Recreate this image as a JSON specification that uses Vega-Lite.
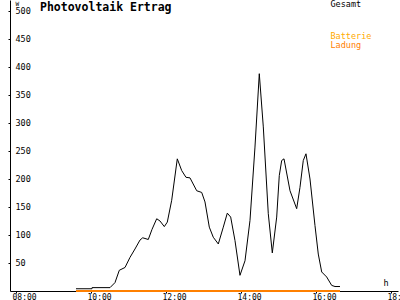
{
  "$schema": "https://vega.github.io/schema/vega-lite/v6.json",
  "width": 388,
  "height": 291,
  "autosize": {"type": "none"},
  "padding": {"left": 10, "top": 0, "right": 2, "bottom": 9},
  "background": "white",
  "config": {
    "view": {"stroke": null},
    "font": "DejaVu Sans Mono",
    "title": {"offset": -13}
  },
  "title": {
    "text": "Photovoltaik Ertrag",
    "anchor": "start",
    "frame": "group",
    "orient": "top",
    "offset": -13,
    "dx": 30,
    "baseline": "top",
    "font": "DejaVu Sans Mono",
    "fontWeight": "bold",
    "fontSize": 11.5,
    "color": "black"
  },
  "data": {
    "values": [
      {"h": 9.6, "w": 4, "series": "Gesamt"},
      {"h": 10.027, "w": 4, "series": "Gesamt"},
      {"h": 10.028, "w": 6, "series": "Gesamt"},
      {"h": 10.507, "w": 6, "series": "Gesamt"},
      {"h": 10.64, "w": 15, "series": "Gesamt"},
      {"h": 10.755, "w": 37, "series": "Gesamt"},
      {"h": 10.907, "w": 42, "series": "Gesamt"},
      {"h": 11.04, "w": 60, "series": "Gesamt"},
      {"h": 11.173, "w": 75, "series": "Gesamt"},
      {"h": 11.307, "w": 91, "series": "Gesamt"},
      {"h": 11.379, "w": 95, "series": "Gesamt"},
      {"h": 11.528, "w": 92, "series": "Gesamt"},
      {"h": 11.627, "w": 110, "series": "Gesamt"},
      {"h": 11.752, "w": 129, "series": "Gesamt"},
      {"h": 11.84, "w": 125, "series": "Gesamt"},
      {"h": 11.955, "w": 115, "series": "Gesamt"},
      {"h": 12.035, "w": 123, "series": "Gesamt"},
      {"h": 12.152, "w": 162, "series": "Gesamt"},
      {"h": 12.301, "w": 236, "series": "Gesamt"},
      {"h": 12.419, "w": 215, "series": "Gesamt"},
      {"h": 12.533, "w": 203, "series": "Gesamt"},
      {"h": 12.64, "w": 202, "series": "Gesamt"},
      {"h": 12.819, "w": 179, "series": "Gesamt"},
      {"h": 12.952, "w": 176, "series": "Gesamt"},
      {"h": 13.04, "w": 159, "series": "Gesamt"},
      {"h": 13.155, "w": 114, "series": "Gesamt"},
      {"h": 13.261, "w": 96, "series": "Gesamt"},
      {"h": 13.395, "w": 84, "series": "Gesamt"},
      {"h": 13.528, "w": 114, "series": "Gesamt"},
      {"h": 13.635, "w": 139, "series": "Gesamt"},
      {"h": 13.725, "w": 132, "series": "Gesamt"},
      {"h": 13.84, "w": 90, "series": "Gesamt"},
      {"h": 13.973, "w": 28, "series": "Gesamt"},
      {"h": 14.107, "w": 54, "series": "Gesamt"},
      {"h": 14.24, "w": 126, "series": "Gesamt"},
      {"h": 14.373, "w": 257, "series": "Gesamt"},
      {"h": 14.488, "w": 388, "series": "Gesamt"},
      {"h": 14.595, "w": 293, "series": "Gesamt"},
      {"h": 14.728, "w": 138, "series": "Gesamt"},
      {"h": 14.835, "w": 68, "series": "Gesamt"},
      {"h": 14.952, "w": 132, "series": "Gesamt"},
      {"h": 15.021, "w": 206, "series": "Gesamt"},
      {"h": 15.085, "w": 233, "series": "Gesamt"},
      {"h": 15.147, "w": 236, "series": "Gesamt"},
      {"h": 15.307, "w": 179, "series": "Gesamt"},
      {"h": 15.485, "w": 147, "series": "Gesamt"},
      {"h": 15.573, "w": 185, "series": "Gesamt"},
      {"h": 15.661, "w": 233, "series": "Gesamt"},
      {"h": 15.733, "w": 245, "series": "Gesamt"},
      {"h": 15.84, "w": 200, "series": "Gesamt"},
      {"h": 15.973, "w": 117, "series": "Gesamt"},
      {"h": 16.061, "w": 66, "series": "Gesamt"},
      {"h": 16.152, "w": 34, "series": "Gesamt"},
      {"h": 16.285, "w": 25, "series": "Gesamt"},
      {"h": 16.419, "w": 10, "series": "Gesamt"},
      {"h": 16.507, "w": 8, "series": "Gesamt"},
      {"h": 16.64, "w": 8, "series": "Gesamt"},
      {"h": 9.6, "w": 0, "series": "Ladung"},
      {"h": 16.64, "w": 0, "series": "Ladung"}
    ]
  },
  "encoding": {
    "x": {
      "field": "h",
      "type": "quantitative",
      "scale": {"domain": [7.84, 18.187], "nice": false, "zero": false},
      "axis": {
        "values": [8, 10, 12, 14, 16, 18],
        "labelExpr": "(datum.value < 10 ? '0' : '') + datum.value + ':00'",
        "grid": false,
        "domainColor": "black",
        "tickColor": "black",
        "tickSize": 2,
        "labelPadding": 0,
        "labelAlign": "left",
        "labelOffset": -4,
        "labelFlush": false,
        "labelOverlap": false,
        "labelFont": "DejaVu Sans Mono",
        "labelFontSize": 8,
        "labelColor": "black",
        "title": "h",
        "titleX": 373,
        "titleY": -9,
        "titleAlign": "left",
        "titleBaseline": "middle",
        "titleFont": "DejaVu Sans Mono",
        "titleFontSize": 8.5,
        "titleFontWeight": "normal",
        "titleColor": "black"
      }
    },
    "y": {
      "field": "w",
      "type": "quantitative",
      "scale": {"domain": [0, 519.6], "nice": false},
      "axis": {
        "values": [50, 100, 150, 200, 250, 300, 350, 400, 450, 500],
        "grid": false,
        "domainColor": "black",
        "tickColor": "black",
        "tickSize": 2,
        "labelPadding": -7,
        "labelAlign": "left",
        "labelBaseline": "middle",
        "labelFont": "DejaVu Sans Mono",
        "labelFontSize": 8.5,
        "labelColor": "black",
        "title": "W",
        "titleAngle": 0,
        "titleX": 5,
        "titleY": 3,
        "titleAlign": "left",
        "titleBaseline": "middle",
        "titleFont": "DejaVu Sans Mono",
        "titleFontSize": 6,
        "titleFontWeight": "normal",
        "titleColor": "black"
      }
    }
  },
  "layer": [
    {
      "transform": [{"filter": "datum.series === 'Ladung'"}],
      "mark": {"type": "line", "strokeWidth": 2},
      "encoding": {
        "stroke": {
          "field": "series",
          "type": "nominal",
          "scale": {"domain": ["Batterie", "Ladung"], "range": ["#ffaa00", "#ff8000"]},
          "legend": {
            "orient": "none",
            "legendX": 312,
            "legendY": 32,
            "title": null,
            "symbolOpacity": 0,
            "symbolSize": 0,
            "symbolStrokeWidth": 0,
            "labelOffset": 0,
            "rowPadding": 0,
            "labelFont": "DejaVu Sans Mono",
            "labelFontSize": 8.5,
            "encode": {
              "labels": {
                "update": {
                  "fill": {"signal": "datum.value === 'Batterie' ? '#ffaa00' : '#ff8000'"}
                }
              }
            }
          }
        }
      }
    },
    {
      "transform": [{"filter": "datum.series === 'Gesamt'"}],
      "mark": {"type": "line", "strokeWidth": 1},
      "encoding": {
        "color": {
          "field": "series",
          "type": "nominal",
          "scale": {"domain": ["Gesamt"], "range": ["black"]},
          "legend": {
            "orient": "none",
            "legendX": 312,
            "legendY": 0,
            "title": null,
            "symbolOpacity": 0,
            "symbolSize": 0,
            "symbolStrokeWidth": 0,
            "labelOffset": 0,
            "labelFont": "DejaVu Sans Mono",
            "labelFontSize": 8.5,
            "labelColor": "black"
          }
        }
      }
    }
  ]
}
